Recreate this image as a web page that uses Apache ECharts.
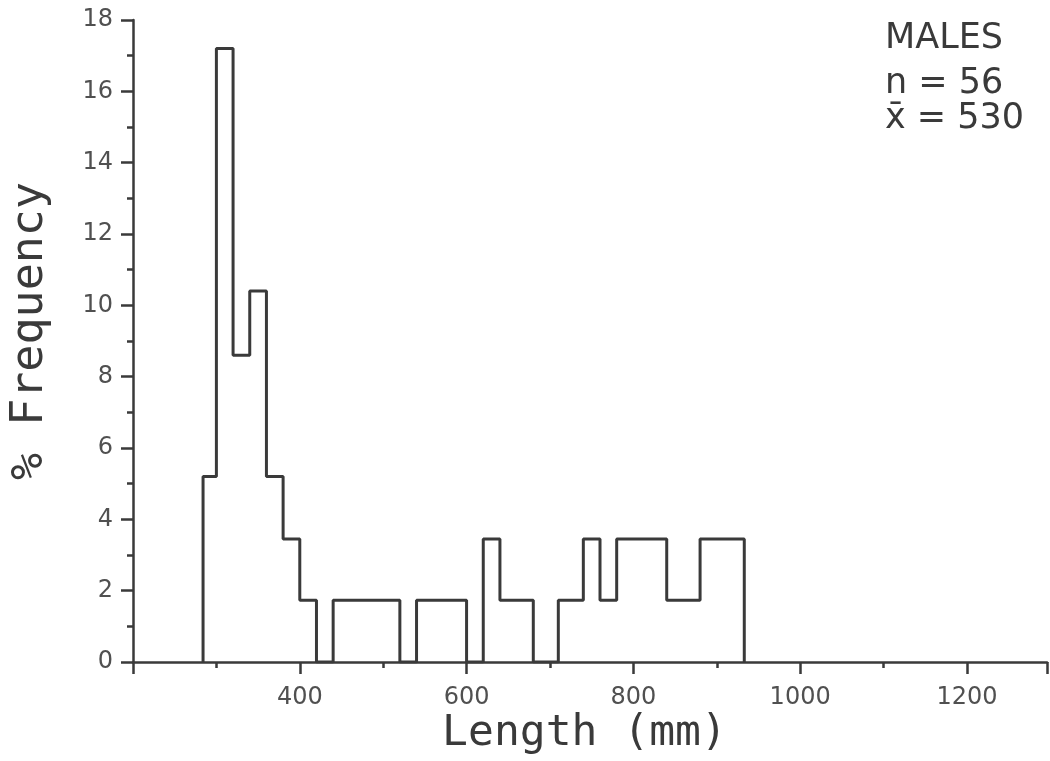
<!DOCTYPE html>
<html>
<head>
<meta charset="utf-8">
<script src="https://cdn.jsdelivr.net/npm/echarts@6/dist/echarts.min.js"></script>
<style>html,body{margin:0;padding:0;background:#fff;overflow:hidden;}#c{width:1050px;height:761px;}</style>
</head>
<body>
<div id="c"></div>
<script>
// Bin edges (mm) and % frequency for each bin
var binEdges = [284, 300, 320, 340, 360, 380, 400, 420, 440, 520, 540, 600, 620, 640, 680, 710, 740, 760, 780, 840, 880, 933];
var binFreq  = [5.2, 17.2, 8.6, 10.4, 5.2, 3.45, 1.73, 0, 1.73, 0, 1.73, 0, 3.45, 1.73, 0, 1.73, 3.45, 1.73, 3.45, 1.73, 3.45];
var xTickLabels = ['400', '600', '800', '1000', '1200'];
var yTickLabels = ['0', '2', '4', '6', '8', '10', '12', '14', '16', '18'];
var legendLines = ['MALES', 'n = 56', 'x\u0304 = 530'];

// Build the step outline from the bins
var outline = [[binEdges[0], 0]];
for (var i = 0; i < binFreq.length; i++) {
  outline.push([binEdges[i], binFreq[i]]);
  outline.push([binEdges[i + 1], binFreq[i]]);
}
outline.push([binEdges[binEdges.length - 1], 0]);

var ink = '#3a3a3a';
var font = 'DejaVu Sans';
var mono = 'DejaVu Sans Mono';
var chart = echarts.init(document.getElementById('c'));
chart.setOption({
  animation: false,
  backgroundColor: '#ffffff',
  grid: { left: 133, top: 20, width: 919, height: 642 },
  xAxis: {
    type: 'value', min: 200, max: 1296, interval: 200,
    name: 'Length (mm)', nameLocation: 'middle', nameGap: 50, nameMoveOverlap: false,
    nameTextStyle: { fontFamily: mono, fontSize: 43, color: ink, padding: [0, 11, 0, 0] },
    axisLine: { onZero: false, lineStyle: { color: ink, width: 2.5 } },
    axisTick: { length: 12, lineStyle: { color: ink, width: 2.5 } },
    minorTick: { show: true, splitNumber: 2, length: 6, lineStyle: { color: ink, width: 2.5 } },
    splitLine: { show: false },
    axisLabel: {
      margin: 24, fontFamily: font, fontSize: 24, color: '#505050',
      formatter: function (v) { var s = String(v); return xTickLabels.indexOf(s) >= 0 ? s : ''; }
    }
  },
  yAxis: {
    type: 'value', min: 0, max: 18, interval: 2,
    name: '% Frequency', nameLocation: 'middle', nameGap: 80, nameMoveOverlap: false,
    nameTextStyle: { fontFamily: mono, fontSize: 45, color: ink, padding: [0, 0, 0, 20] },
    axisLine: { lineStyle: { color: ink, width: 2.5 } },
    axisTick: { length: 12, lineStyle: { color: ink, width: 2.5 } },
    minorTick: { show: true, splitNumber: 2, length: 6, lineStyle: { color: ink, width: 2.5 } },
    splitLine: { show: false },
    axisLabel: {
      margin: 20, fontFamily: font, fontSize: 24, color: '#505050',
      formatter: function (v) { var s = String(v); return yTickLabels.indexOf(s) >= 0 ? s : ''; }
    }
  },
  series: [{
    type: 'line',
    data: outline,
    symbol: 'none',
    lineStyle: { color: ink, width: 3 },
    z: 3
  }],
  graphic: legendLines.map(function (t, k) {
    return {
      type: 'text', left: 885, top: [21, 66, 101][k],
      style: { text: t, fontFamily: font, fontSize: 35, fill: ink }
    };
  })
});
</script>
</body>
</html>
